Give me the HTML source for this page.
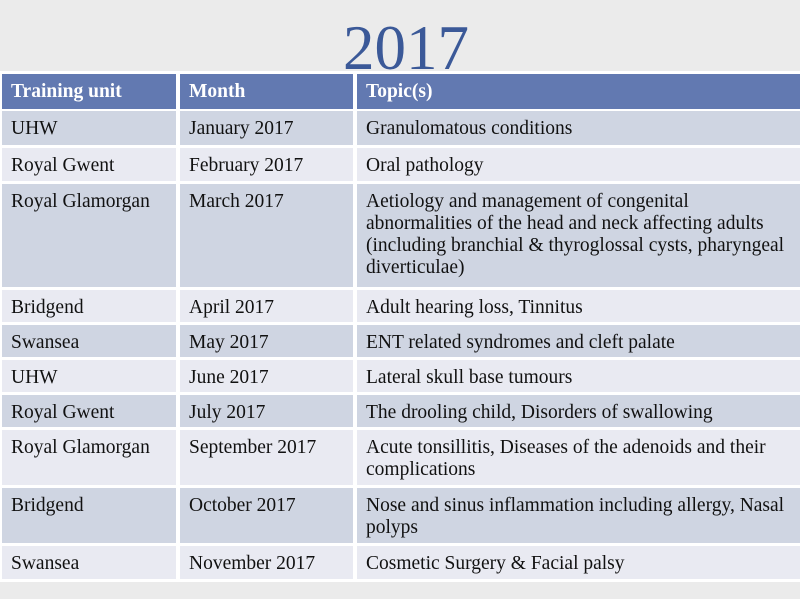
<!DOCTYPE html>
<html><head><meta charset="utf-8"><style>
html,body{margin:0;padding:0}
body{width:800px;height:599px;background:#ebebeb;position:relative;overflow:hidden;font-family:"Liberation Serif",serif}
#title{position:absolute;left:6px;width:800px;top:15px;text-align:center;font-size:63px;line-height:66px;color:#3b5998}
#tbl{position:absolute;left:0;top:71px;width:800px;height:511px;background:#fff}
.c{position:absolute;box-sizing:border-box;padding:7px 0 0 9px;font-size:19.5px;line-height:22px;color:#111;white-space:nowrap}
.h{background:#6279b1;color:#fff;font-weight:bold;padding-top:7px}
.o{background:#cfd5e2}.e{background:#e9eaf2}
</style></head><body>
<div id="title">2017</div>
<div id="tbl"></div>
<script>
const rows=[
["Training unit","Month","Topic(s)",74,109],
["UHW","January 2017","Granulomatous conditions",111,145],
["Royal Gwent","February 2017","Oral pathology",148,181],
["Royal Glamorgan","March 2017","Aetiology and management of congenital<br>abnormalities of the head and neck affecting adults<br>(including branchial &amp; thyroglossal cysts, pharyngeal<br>diverticulae)",184,287],
["Bridgend","April 2017","Adult hearing loss, Tinnitus",290,322],
["Swansea","May 2017","ENT related syndromes and cleft palate",325,357],
["UHW","June 2017","Lateral skull base tumours",360,392],
["Royal Gwent","July 2017","The drooling child, Disorders of swallowing",395,427],
["Royal Glamorgan","September 2017","Acute tonsillitis, Diseases of the adenoids and their<br>complications",430,485],
["Bridgend","October 2017","Nose and sinus inflammation including allergy, Nasal<br>polyps",488,543],
["Swansea","November 2017","Cosmetic Surgery &amp; Facial palsy",546,579]];
const cols=[[2,176],[180,353],[357,800]];
const names=['training-unit','month','topics'];
rows.forEach((r,i)=>{
 for(let j=0;j<3;j++){
  const d=document.createElement('div');
  d.className='c '+(i==0?'h':(i%2?'o':'e'));
  d.style.left=cols[j][0]+'px';d.style.width=(cols[j][1]-cols[j][0])+'px';
  d.style.top=r[3]+'px';d.style.height=(r[4]-r[3])+'px';
  d.innerHTML=r[j];
  
  
  document.body.appendChild(d);
 }
});
</script>
</body></html>
